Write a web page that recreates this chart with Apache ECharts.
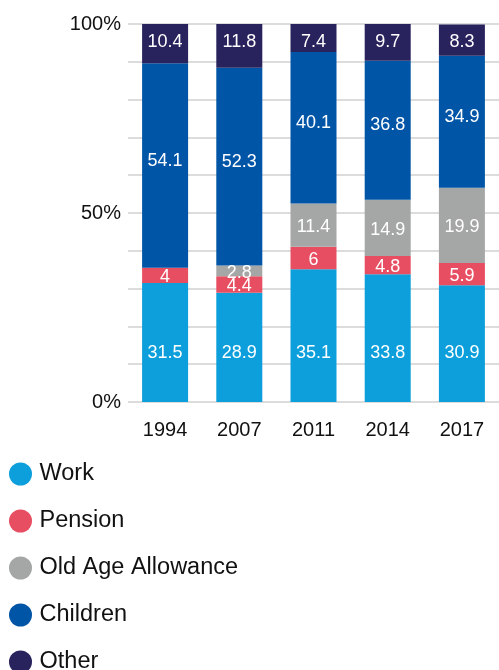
<!DOCTYPE html>
<html>
<head>
<meta charset="utf-8">
<style>
  html, body { margin: 0; padding: 0; background: #fff; }
  #chart { width: 499px; height: 670px; }
</style>
<script src="https://cdn.jsdelivr.net/npm/echarts@6/dist/echarts.min.js"></script>
</head>
<body>
<div id="chart"></div>
<script>
// Share of income by source (percent), per survey year
const years = ['1994', '2007', '2011', '2014', '2017'];
const work = [31.5, 28.9, 35.1, 33.8, 30.9];
const pension = [4, 4.4, 6, 4.8, 5.9];
const oldAgeAllowance = [0, 2.8, 11.4, 14.9, 19.9];
const children = [54.1, 52.3, 40.1, 36.8, 34.9];
const other = [10.4, 11.8, 7.4, 9.7, 8.3];
const yTickLabels = { 0: '0%', 50: '50%', 100: '100%' };

const FONT = 'Liberation Sans, Arial, sans-serif';

function makeSeries(name, values, color, label) {
  return {
    name: name,
    type: 'bar',
    stack: 'total',
    data: values,
    barWidth: 46,
    itemStyle: { color: color },
    label: Object.assign({
      show: true,
      color: '#fff',
      fontSize: 18,
      fontFamily: FONT,
      formatter: p => (p.value ? String(p.value) : '')
    }, label)
  };
}

const chart = echarts.init(document.getElementById('chart'), null, { renderer: 'canvas' });
chart.setOption({
  animation: false,
  backgroundColor: '#fff',
  grid: { left: 128, right: -8, top: 24, bottom: 268, containLabel: false },
  legend: {
    orient: 'vertical',
    left: 9,
    top: 462,
    height: 400,
    padding: 0,
    icon: 'circle',
    itemWidth: 28,
    itemHeight: 23,
    itemGap: 23,
    textStyle: { fontSize: 23.5, color: '#111', fontFamily: FONT },
    data: ['Work', 'Pension', 'Old Age Allowance', 'Children', 'Other']
  },
  xAxis: {
    type: 'category',
    data: years,
    axisLine: { show: false },
    axisTick: { show: false },
    axisLabel: { fontSize: 20, color: '#111', fontFamily: FONT, margin: 18 }
  },
  yAxis: {
    type: 'value',
    min: 0,
    max: 100,
    interval: 10,
    axisLine: { show: false },
    axisTick: { show: false },
    splitLine: { lineStyle: { color: '#dcdcdc', width: 2 } },
    axisLabel: {
      fontSize: 20,
      color: '#111',
      fontFamily: FONT,
      margin: 7,
      formatter: v => (yTickLabels[v] !== undefined ? yTickLabels[v] : '')
    }
  },
  series: [
    makeSeries('Work', work, '#0c9fdb', { position: 'insideBottom', distance: 40 }),
    makeSeries('Pension', pension, '#e84e62', { position: 'inside', offset: [0, 2] }),
    makeSeries('Old Age Allowance', oldAgeAllowance, '#a5a6a6', { position: 'inside', offset: [0, 2] }),
    makeSeries('Children', children, '#0055a6', { position: 'inside', offset: [0, -5] }),
    makeSeries('Other', other, '#28225d', { position: 'insideTop', distance: 9 })
  ]
});
</script>
</body>
</html>
